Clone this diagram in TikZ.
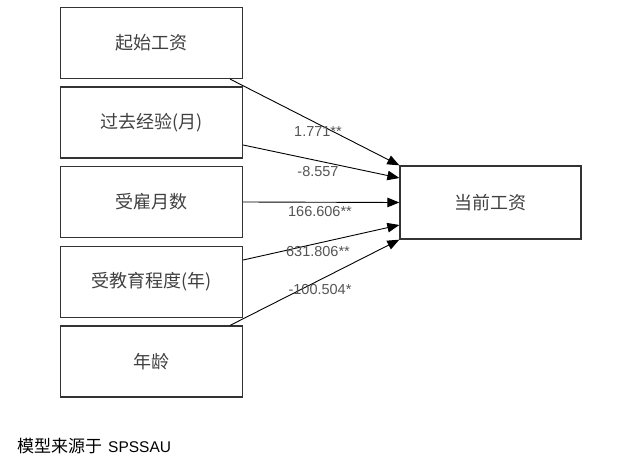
\documentclass[tikz,border=0pt]{standalone}
\usepackage{fontspec}
\setmainfont{Liberation Sans}
\newfontfamily\cjk{Noto Sans CJK SC}
\usetikzlibrary{arrows.meta,calc}
\definecolor{boxline}{HTML}{333333}
\definecolor{boxtext}{HTML}{404040}
\definecolor{labtext}{HTML}{555555}
\tikzset{
  x=1pt,y=1pt,
  varbox/.style={draw=boxline,line width=1.3pt,minimum width=182pt,minimum height=71pt,inner sep=0pt,text=boxtext,font=\cjk\fontsize{18}{20}\selectfont},
  conn/.style={draw=black,line width=0.9pt,-{Triangle[length=12pt,width=9.5pt]}},
  coef/.style={text=labtext,font=\fontsize{14.5}{16}\selectfont,inner sep=0pt},
}
\begin{document}
\begin{tikzpicture}
\useasboundingbox (0,0) rectangle (644,-473);
\node[varbox] (b1) at (151.5,-43) {起始工资};
\node[varbox] (b2) at (151.5,-122.5) {过去经验(月)};
\node[varbox] (b3) at (151.5,-202) {受雇月数};
\node[varbox] (b4) at (151.5,-282) {受教育程度(年)};
\node[varbox] (b5) at (151.5,-361.5) {年龄};
\node[varbox,minimum width=181pt,minimum height=73pt] (t) at (490.5,-202.5) {当前工资};
\coordinate (s1) at ($(b1.south east)+(-13,0)$);
\coordinate (s2) at ($(b2.east)+(0,-22.5)$);
\coordinate (s4) at ($(b4.east)+(0,22)$);
\coordinate (s5) at ($(b5.north east)+(-13,0)$);
\coordinate (e2) at ($(t.west)+(0,24.5)$);
\coordinate (e4) at ($(t.west)+(0,-22.5)$);
\draw[conn] (s1) -- (t.north west);
\draw[conn] (s2) -- (e2);
\draw[conn] (b3.east) -- (t.west);
\draw[conn] (s4) -- (e4);
\draw[conn] (s5) -- (t.south west);
\node[coef] (l1) at (318,-132) {1.771**};
\node[coef] (l2) at (318,-172) {-8.557};
\node[coef] (l3) at (320,-212) {166.606**};
\node[coef] (l4) at (318,-252) {631.806**};
\node[coef] (l5) at (320,-290) {-100.504*};
\node[anchor=west,inner sep=0pt,text=black] (cap) at (17,-446) {{\cjk\fontsize{17}{19}\selectfont 模型来源于}\hspace{6pt}{\fontsize{15.5}{17}\selectfont SPSSAU}};
\end{tikzpicture}
\end{document}
